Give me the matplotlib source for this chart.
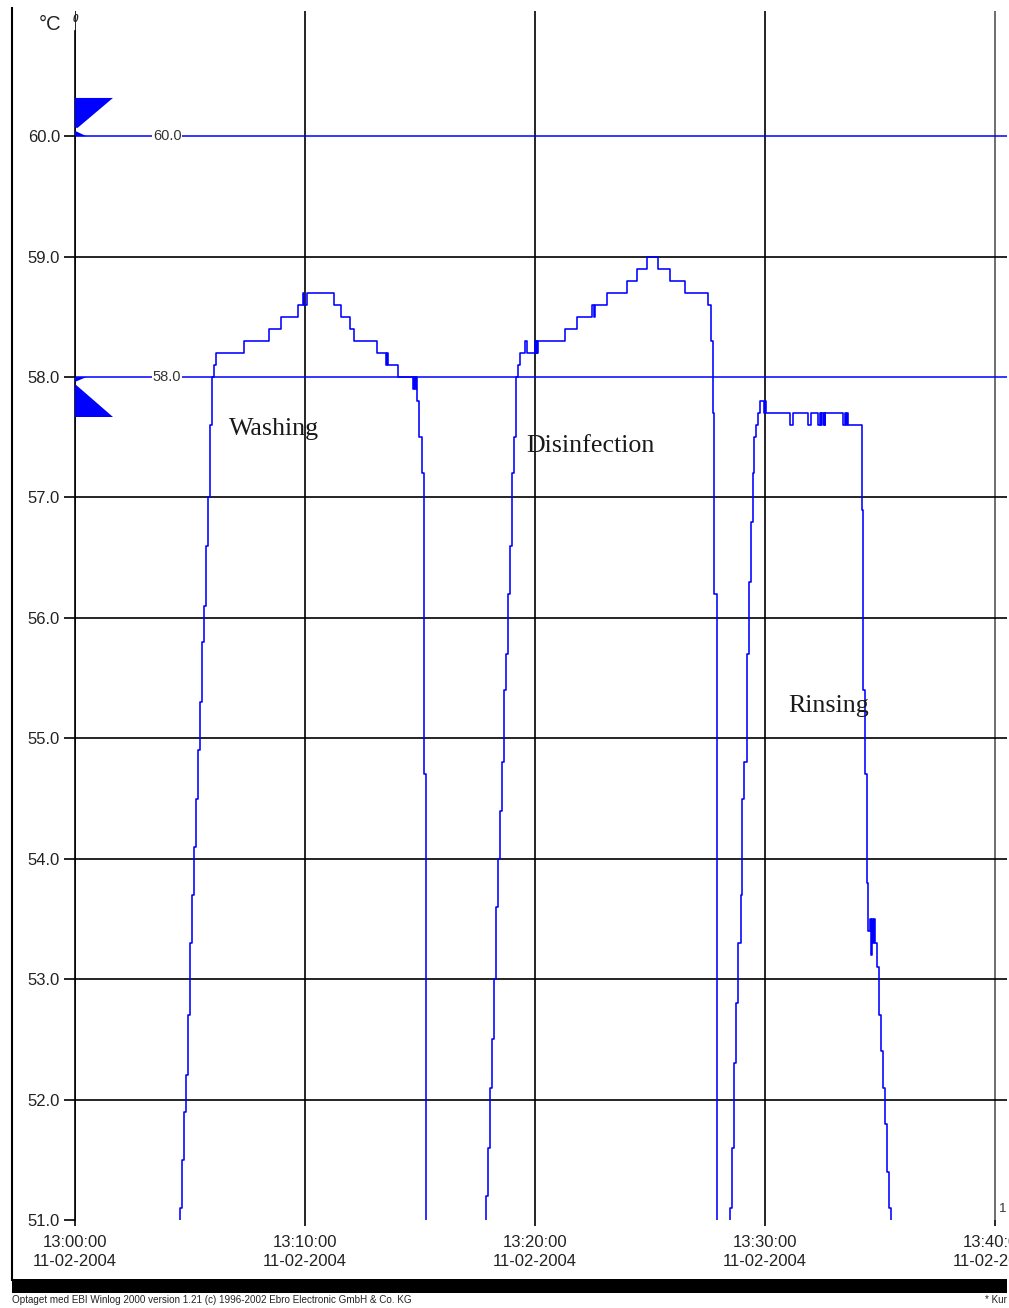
import datetime as dt

import matplotlib
matplotlib.use('Agg')
import matplotlib.pyplot as plt
from matplotlib.patches import Rectangle, Polygon
from matplotlib.lines import Line2D
from matplotlib.ticker import FixedLocator, FuncFormatter

plt.rcParams['font.family'] = ['Liberation Sans', 'DejaVu Sans']

# ---------------------------------------------------------------
# Logger data: seconds after 13:00:00 and reading in deg C
# (values below 51.0 are off the chart)
# ---------------------------------------------------------------
START = dt.datetime(2004, 2, 11, 13, 0, 0)

wash_s = [222, 273, 278, 284, 289, 295, 300, 305, 310, 316, 321, 326, 331,
          337, 342, 348, 352, 357, 363, 367, 441, 506, 537, 582, 595, 597,
          605, 676, 694, 717, 728, 788, 811, 814, 817, 843, 882, 884, 887,
          890, 892, 897, 905, 910, 916]
wash_c = [50.5, 51.1, 51.5, 51.9, 52.2, 52.7, 53.3, 53.7, 54.1, 54.5, 54.9,
          55.3, 55.8, 56.1, 56.6, 57.0, 57.6, 58.0, 58.1, 58.2, 58.3, 58.4,
          58.5, 58.6, 58.7, 58.6, 58.7, 58.6, 58.5, 58.4, 58.3, 58.2, 58.1,
          58.2, 58.1, 58.0, 57.9, 58.0, 57.9, 58.0, 57.8, 57.5, 57.2, 54.7,
          50.5]

dis_s = [1030, 1071, 1077, 1083, 1088, 1093, 1098, 1103, 1109, 1114, 1119,
         1124, 1130, 1135, 1140, 1145, 1150, 1156, 1161, 1174, 1179, 1200,
         1202, 1204, 1206, 1208, 1278, 1310, 1349, 1353, 1357, 1387, 1439,
         1465, 1491, 1521, 1552, 1591, 1652, 1658, 1663, 1668, 1674]
dis_c = [50.5, 51.2, 51.6, 52.1, 52.5, 53.0, 53.6, 54.0, 54.4, 54.8, 55.4,
         55.7, 56.2, 56.6, 57.2, 57.5, 58.0, 58.1, 58.2, 58.3, 58.2, 58.3,
         58.2, 58.3, 58.2, 58.3, 58.4, 58.5, 58.6, 58.5, 58.6, 58.7, 58.8,
         58.9, 59.0, 58.9, 58.8, 58.7, 58.6, 58.3, 57.7, 56.2, 50.5]

rinse_s = [1683, 1709, 1714, 1719, 1724, 1730, 1736, 1741, 1746, 1752, 1758,
           1763, 1768, 1772, 1777, 1782, 1787, 1797, 1800, 1803, 1866, 1872,
           1911, 1919, 1939, 1942, 1945, 1947, 1950, 1953, 1955, 1957, 2003,
           2009, 2011, 2014, 2017, 2052, 2056, 2061, 2065, 2069, 2074, 2076,
           2079, 2082, 2084, 2087, 2091, 2096, 2102, 2107, 2113, 2119, 2124,
           2129, 2152]
rinse_c = [50.5, 51.1, 51.6, 52.3, 52.8, 53.3, 53.7, 54.5, 54.8, 55.7, 56.3,
           56.8, 57.2, 57.5, 57.6, 57.7, 57.8, 57.7, 57.8, 57.7, 57.6, 57.7,
           57.6, 57.7, 57.6, 57.7, 57.6, 57.7, 57.6, 57.7, 57.6, 57.7, 57.6,
           57.7, 57.6, 57.7, 57.6, 56.9, 55.4, 54.7, 53.8, 53.4, 53.5, 53.2,
           53.5, 53.3, 53.5, 53.3, 53.1, 52.7, 52.4, 52.1, 51.8, 51.4, 51.1,
           50.5, 50.5]

phase_names = ['Washing', 'Disinfection', 'Rinsing']

alarm_hi = 60.0
alarm_lo = 58.0
grid_levels = [52, 53, 54, 55, 56, 57, 59]
y_ticks = [51, 52, 53, 54, 55, 56, 57, 58, 59, 60]
x_ticks = [0, 600, 1200, 1800, 2400]

footer = ('Optaget med EBI Winlog 2000 version 1.21 (c) 1996-2002 '
          'Ebro Electronic GmbH & Co. KG')

# ---------------------------------------------------------------
# Layout (figure pixels)
# ---------------------------------------------------------------
W, H = 1009, 1308
BLUE = '#0000ff'


def fx(px):
    return px / W


def fy(py):
    return 1 - py / H


def time_label(v, pos):
    stamp = START + dt.timedelta(seconds=float(v))
    return stamp.strftime('%H:%M:%S\n%d-%m-%Y')


fig = plt.figure(figsize=(W / 100, H / 100), dpi=100)
fig.patch.set_facecolor('white')
ax = fig.add_axes([fx(75), fy(1220), (1007 - 75) / W, (1220 - 11) / H])

ax.set_xlim(0, 2431)
ax.set_ylim(51.0, 61.04)

# grid
for lvl in grid_levels:
    ax.axhline(lvl, color='black', lw=1.2, zorder=1)
ax.xaxis.set_major_locator(FixedLocator(x_ticks))
ax.grid(axis='x', color='black', lw=1.2, zorder=1)
ax.set_axisbelow(True)

# alarm limits
for lim in (alarm_hi, alarm_lo):
    ax.axhline(lim, color=BLUE, lw=1.1, zorder=2)
    ax.text(203, lim, f'{lim:.1f}', fontsize=10.5, color='#333333',
            va='center', ha='left', zorder=3,
            bbox=dict(facecolor='white', edgecolor='none', pad=0.5))

# alarm flags on the axis
flag_w = 99
ax.add_patch(Polygon([(0, alarm_hi + 0.318), (flag_w, alarm_hi + 0.318),
                      (7, alarm_hi + 0.07), (0, alarm_hi + 0.07)],
                     closed=True, color=BLUE, lw=0, zorder=3))
ax.add_patch(Polygon([(0, alarm_hi + 0.045), (30, alarm_hi), (0, alarm_hi)],
                     closed=True, color=BLUE, lw=0, zorder=3))
ax.add_patch(Polygon([(0, alarm_lo - 0.055), (0, alarm_lo - 0.33),
                      (flag_w, alarm_lo - 0.33)],
                     closed=True, color=BLUE, lw=0, zorder=3))
ax.add_patch(Polygon([(0, alarm_lo), (30, alarm_lo), (0, alarm_lo - 0.04)],
                     closed=True, color=BLUE, lw=0, zorder=3))

# temperature curve
t_all = wash_s + dis_s + rinse_s
c_all = wash_c + dis_c + rinse_c
ax.plot(t_all, c_all, drawstyle='steps-post', color=BLUE, lw=1.15, zorder=4)

# phase labels
label_at = [(402, 57.52), (1176, 57.38), (1861, 55.22)]
for name, (lx, ly) in zip(phase_names, label_at):
    ax.text(lx, ly, name, family='Liberation Serif', fontsize=18.7,
            color='#1a1a1a', ha='left', va='baseline', zorder=5)

# axes styling
for side in ('top', 'right', 'bottom'):
    ax.spines[side].set_visible(False)
ax.spines['left'].set_bounds(51.0, 60.87)
ax.spines['left'].set_linewidth(1.2)

ax.set_yticks(y_ticks)
ax.yaxis.set_major_formatter(FuncFormatter(lambda v, p: f'{v:.1f}'))
ax.xaxis.set_major_formatter(FuncFormatter(time_label))
ax.tick_params(axis='y', direction='out', length=7.9, width=1.2, pad=2.9,
               labelsize=12, labelcolor='#222222')
ax.tick_params(axis='x', direction='out', length=4.3, width=1.2, pad=6.5,
               labelsize=12, labelcolor='#222222')
for lbl in ax.get_xticklabels():
    lbl.set_linespacing(1.37)
ax.xaxis.get_gridlines()[-1].set_color('#555555')

# header symbols
fig.text(fx(50), fy(25), '°C', fontsize=14.5, ha='center', va='center',
         color='#222222')
fig.text(fx(75), fy(19), '0', fontsize=7, ha='center', va='center',
         style='italic', fontweight='bold', color='#222222')
fig.text(fx(1003), fy(1209), '1', fontsize=9.5, ha='center', va='center',
         color='#333333')

# frame and footer bar
fig.add_artist(Line2D([fx(12), fx(12)], [fy(8), fy(1280)], color='black',
                      lw=1.5))
fig.add_artist(Rectangle((fx(12), fy(1293)), (1007 - 12) / W, 14 / H,
                         transform=fig.transFigure, facecolor='black',
                         edgecolor='none'))
fig.text(fx(12), fy(1300), footer, fontsize=7.1, ha='left', va='center',
         color='#222222')
fig.text(fx(1007), fy(1300), '* Kur', fontsize=7.1, ha='right', va='center',
         color='#222222')

fig.savefig('out.png', dpi=100)
